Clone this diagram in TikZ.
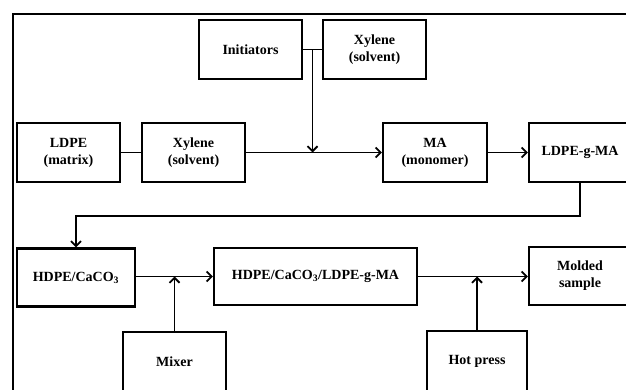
\documentclass[tikz,border=0pt]{standalone}
\usepackage{fontspec}
\setmainfont{Liberation Serif}
\usetikzlibrary{arrows.meta,calc}
\begin{document}
\begin{tikzpicture}[x=1pt,y=-1pt,
  box/.style={draw,line width=2.3pt,inner sep=0pt,align=center,
    font=\fontsize{14}{17}\selectfont\bfseries},
  conn/.style={line width=1.8pt},
  arr/.style={conn,-{Straight Barb[length=5pt,width=10pt,line width=1.8pt]}}]
\useasboundingbox (0,0) rectangle (626,390);
\clip (0,0) rectangle (626,390);
\fill[white] (0,0) rectangle (626,390);
\draw[line width=2pt] (13,14) rectangle (660,420);
\node[box,minimum width=103pt,minimum height=59pt] (init) at (250.5,49.5) {Initiators};
\node[box,minimum width=103pt,minimum height=59pt] (xyl1) at (374.5,49.5) {Xylene\\(solvent)};
\node[box,minimum width=103pt,minimum height=59pt] (ldpe) at (68.5,152.5) {LDPE\\(matrix)};
\node[box,minimum width=103pt,minimum height=59pt] (xyl2) at (193.5,152.5) {Xylene\\(solvent)};
\node[box,minimum width=104pt,minimum height=59pt] (ma) at (435,152.5) {MA\\(monomer)};
\node[box,minimum width=102pt,minimum height=59pt] (lgm) at (580,152.5) {LDPE-g-MA};
\node[box,minimum width=118pt,minimum height=58pt] (hdpe) at (76,277.5) {HDPE/CaCO\textsubscript{3}};
\node[box,minimum width=203pt,minimum height=57pt] (big) at (315.5,276.5) {HDPE/CaCO\textsubscript{3}/LDPE-g-MA};
\node[box,minimum width=102pt,minimum height=58pt] (mold) at (580,276) {Molded\\sample};
\node[box,minimum width=103pt,minimum height=60pt] (mixer) at (174.5,362) {Mixer};
\node[box,minimum width=100pt,minimum height=60pt] (hot) at (477,361) {Hot press};
\coordinate (j1) at ($(init.east)!0.5!(xyl1.west)$);
\draw[conn] (init.east) -- (xyl1.west);
\draw[arr] (j1) -- (j1 |- xyl2.east);
\draw[conn] (ldpe.east) -- (xyl2.west);
\draw[arr] (xyl2.east) -- (ma.west);
\draw[arr] (ma.east) -- (lgm.west);
\coordinate (b1) at ($(lgm.south)+(0,33)$);
\draw[arr] (lgm.south) -- (b1) -- (b1 -| hdpe.north) -- (hdpe.north);
\draw[arr] (hdpe.east |- big.west) -- (big.west);
\draw[arr] (mixer.north) -- (mixer.north |- big.west);
\draw[arr] (big.east) -- (big.east -| mold.west);
\draw[arr] (hot.north) -- (hot.north |- big.east);
\end{tikzpicture}
\end{document}
